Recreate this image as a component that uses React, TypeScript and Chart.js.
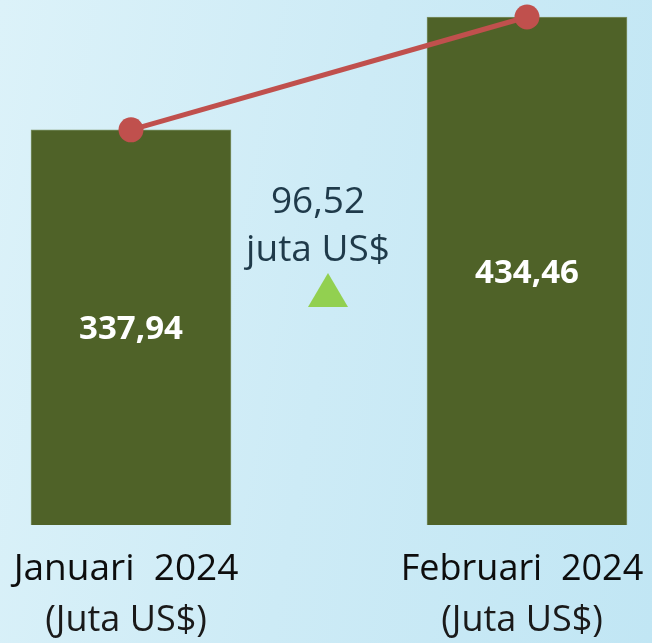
import React, { useEffect, useRef } from "react";
import { Chart, registerables } from "chart.js";

Chart.register(...registerables);

const categories = ["Januari  2024", "Februari  2024"];
const unitLabels = ["(Juta US$)", "(Juta US$)"];
const values = [337.94, 434.46];
const changeUnit = "juta US$";
const yMin = 0;
const yMax = 449;

const fmt = (v: number) => v.toFixed(2).replace(".", ",");

const FONT = "'Open Sans', 'Noto Sans', sans-serif";

const labelsPlugin = {
  id: "customLabels",
  afterDraw(chart: any) {
    const ctx = chart.ctx as CanvasRenderingContext2D;
    const xs = chart.scales.x;
    const ys = chart.scales.y;
    ctx.save();
    ctx.textAlign = "center";
    ctx.textBaseline = "alphabetic";

    // value labels in the bars
    values.forEach((v, i) => {
      const x = xs.getPixelForValue(i);
      const yTop = ys.getPixelForValue(v);
      const yBot = ys.getPixelForValue(0);
      const mid = (yTop + yBot) / 2;
      ctx.font = `bold 33px ${FONT}`;
      ctx.fillStyle = "#ffffff";
      ctx.fillText(fmt(v), x, mid + 12);
    });

    // category labels
    categories.forEach((c, i) => {
      const x = xs.getPixelForValue(i) - 5;
      const yBot = ys.getPixelForValue(0);
      ctx.font = `${i === 0 ? 37 : 36}px ${FONT}`;
      ctx.fillStyle = "#0d0d0d";
      ctx.fillText(c, x, yBot + 55);
      ctx.font = `36px ${FONT}`;
      ctx.fillStyle = "#1a1a1a";
      ctx.fillText(unitLabels[i], x, yBot + 106);
    });

    // change annotation
    const x0 = xs.getPixelForValue(0);
    const x1 = xs.getPixelForValue(1);
    const midX = (x0 + x1) / 2;
    const diff = values[1] - values[0];
    ctx.font = `37px ${FONT}`;
    ctx.fillStyle = "#1f3a4a";
    ctx.fillText(fmt(diff), midX - 11, 213);
    ctx.fillText(changeUnit, midX - 11, 261);

    // triangle
    ctx.fillStyle = "#92d050";
    ctx.beginPath();
    ctx.moveTo(midX - 1, 273);
    ctx.lineTo(midX + 19, 307);
    ctx.lineTo(midX - 21, 307);
    ctx.closePath();
    ctx.fill();

    ctx.restore();
  },
};

export default function App() {
  const ref = useRef<HTMLCanvasElement | null>(null);

  useEffect(() => {
    document.body.style.margin = "0";
    const canvas = ref.current;
    if (!canvas) return;
    const chart = new Chart(canvas, {
      type: "bar",
      data: {
        labels: categories,
        datasets: [
          {
            type: "line",
            data: values,
            borderColor: "#c0504d",
            backgroundColor: "#c0504d",
            borderWidth: 5,
            pointRadius: 12.5,
            pointHoverRadius: 12.5,
            pointBackgroundColor: "#c0504d",
            pointBorderWidth: 0,
            order: 1,
            clip: false,
          } as any,
          {
            type: "bar",
            data: values,
            backgroundColor: "#4f6228",
            borderColor: "#7c9266",
            borderWidth: 1,
            barThickness: 200,
            order: 2,
            clip: false,
          } as any,
        ],
      },
      options: {
        animation: false,
        responsive: false,
        layout: { autoPadding: false, padding: { left: 131, right: 125, top: 0, bottom: 118 } },
        plugins: {
          legend: { display: false },
          tooltip: { enabled: false },
        },
        scales: {
          x: { type: "category", offset: false, display: false },
          y: { min: yMin, max: yMax, display: false },
        },
      },
      plugins: [labelsPlugin],
    });
    return () => chart.destroy();
  }, []);

  return (
    <div
      style={{
        position: "fixed",
        left: 0,
        top: 0,
        width: 652,
        height: 643,
        background: "linear-gradient(100deg, #dcf2f9 0%, #cdebf6 50%, #c1e6f4 100%)",
      }}
    >
      <canvas ref={ref} width={652} height={643} style={{ display: "block" }} />
    </div>
  );
}
